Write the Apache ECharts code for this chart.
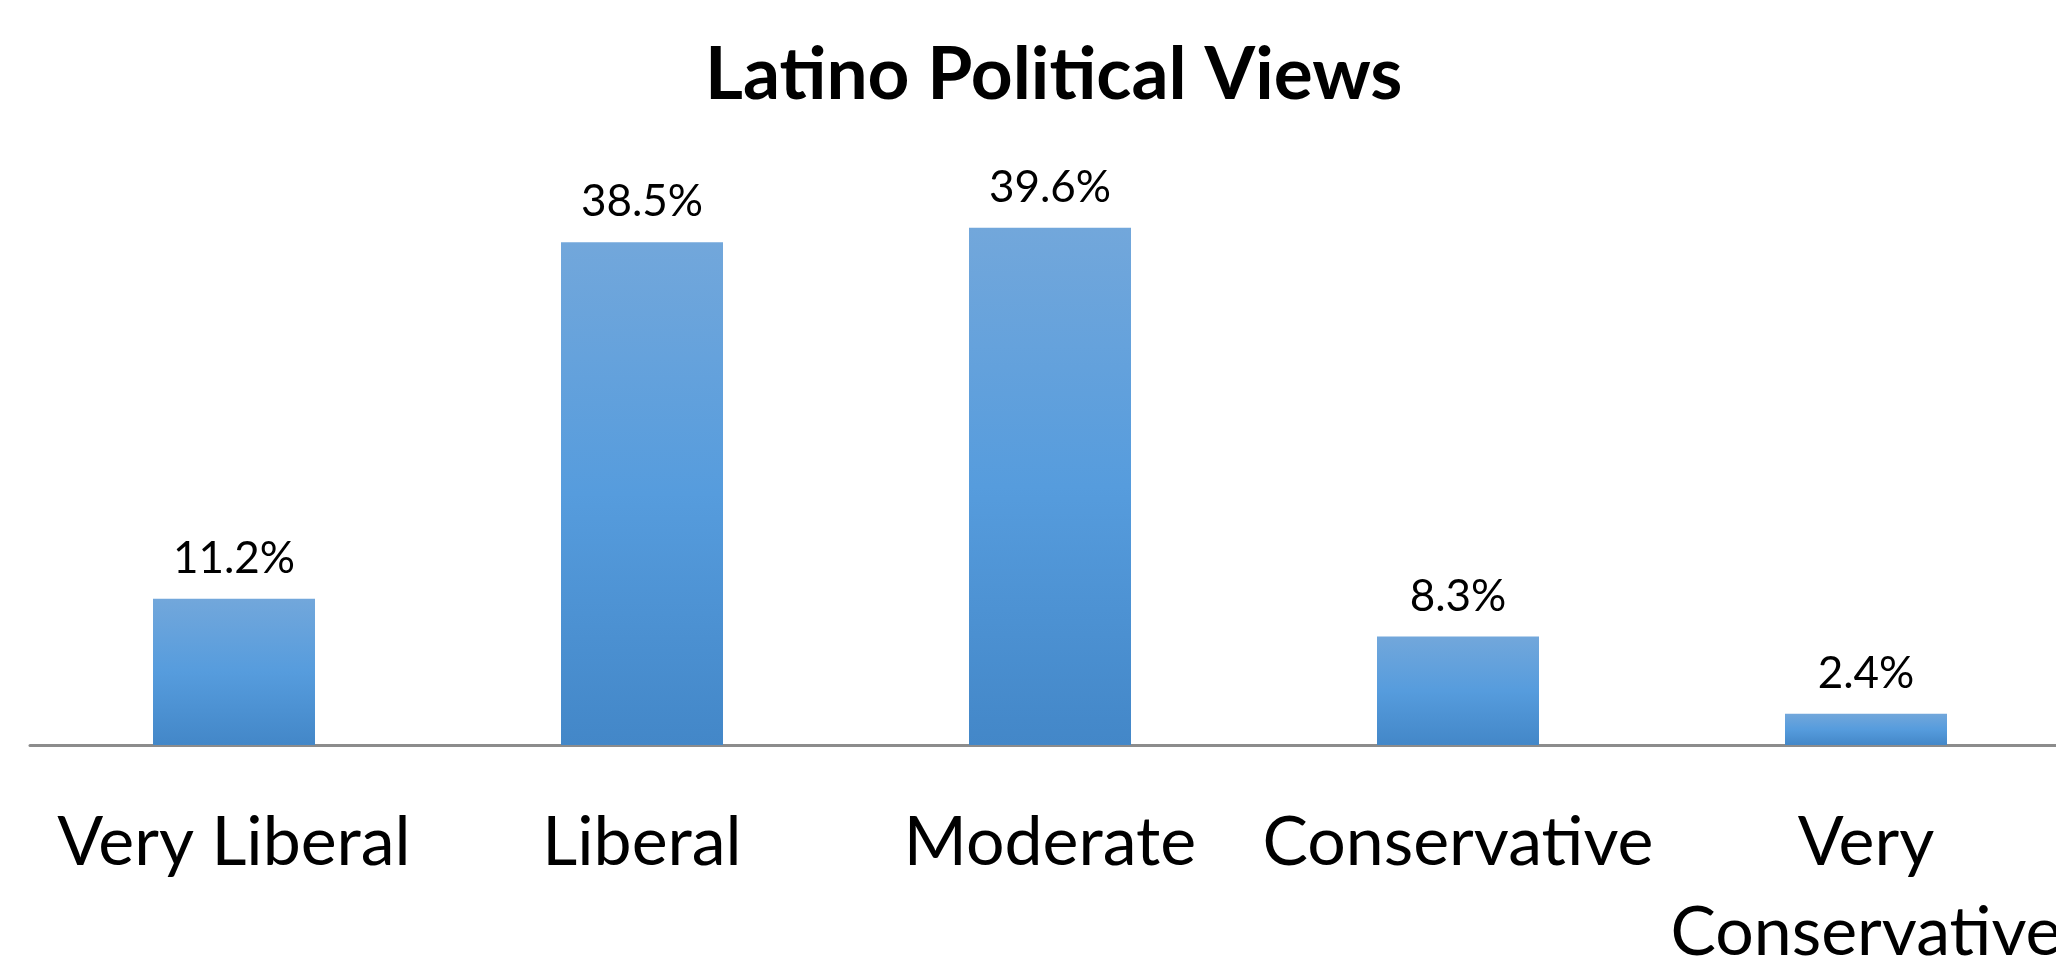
<!DOCTYPE html>
<html>
<head>
<meta charset="utf-8">
<title>Latino Political Views</title>
<script src="https://cdn.jsdelivr.net/npm/echarts@6/dist/echarts.min.js"></script>
<style>
  html, body { margin: 0; padding: 0; background: #fff; }
  #main { width: 2056px; height: 963px; }
</style>
</head>
<body>
<div id="main"></div>
<script>
// data
var categories = ['Very Liberal', 'Liberal', 'Moderate', 'Conservative', 'Very\nConservative'];
var shares = [11.2, 38.5, 39.6, 8.3, 2.4];

var myChart = echarts.init(document.getElementById('main'));

var barColor = new echarts.graphic.LinearGradient(0, 0, 0, 1, [
	{ offset: 0, color: '#72a7db' },
	{ offset: 0.5, color: '#569cdd' },
	{ offset: 1, color: '#4387c8' }
]);

option = {
	backgroundColor: '#fff',
	title: {
		text: 'Latino Political Views',
		left: 700,
		top: 34,
		textStyle: {
			fontFamily: 'Lato',
			fontWeight: 'bold',
			fontSize: 73,
			color: '#000'
		}
	},
	grid: {
		left: 30,
		right: -14,
		top: 92,
		bottom: 218,
		containLabel: false,
		outerBoundsMode: 'none'
	},
	xAxis: [{
		type: 'category',
		data: categories,
		axisTick: { show: false },
		axisLine: { lineStyle: { color: '#8c8c8c', width: 3 } },
		axisLabel: {
			interval: 0,
			margin: 53,
			fontFamily: 'Lato',
			fontSize: 68,
			lineHeight: 90,
			color: '#000'
		}
	}],
	yAxis: [{
		type: 'value',
		min: 0,
		max: 50,
		show: false,
		splitLine: { show: false }
	}],
	series: [{
		type: 'bar',
		data: shares,
		barWidth: 162,
		itemStyle: { color: barColor },
		label: {
			show: true,
			position: 'top',
			distance: 18,
			fontFamily: 'Lato',
			fontSize: 44,
			color: '#000',
			formatter: function(p) { return p.value.toFixed(1) + '%'; }
		}
	}]
};
myChart.setOption(option);
</script>
</body>
</html>
